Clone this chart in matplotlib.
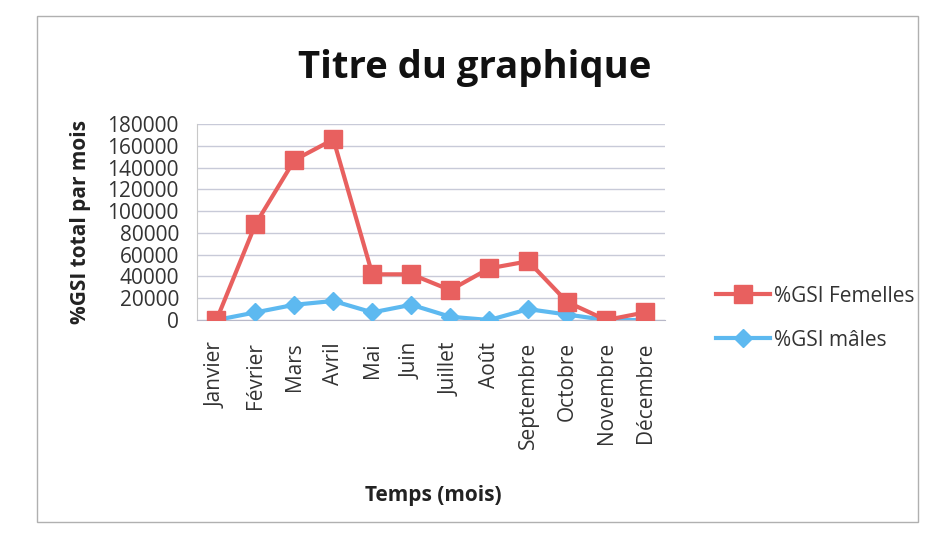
import matplotlib
matplotlib.use('Agg')
import matplotlib.pyplot as plt
from matplotlib.patches import Rectangle

mois = ['Janvier', 'Février', 'Mars', 'Avril', 'Mai', 'Juin', 'Juillet', 'Août',
        'Septembre', 'Octobre', 'Novembre', 'Décembre']
gsi_femelles = [0, 88000, 147000, 166000, 42000, 42000, 27500, 47500, 54000, 16500, 0, 7000]
gsi_males = [0, 7000, 14000, 17500, 7000, 14000, 3000, 0, 10000, 5000, 0, 0]
y_ticks = list(range(0, 180001, 20000))

plt.rcParams['font.family'] = ['Open Sans', 'DejaVu Sans']

fig = plt.figure(figsize=(9.27, 5.33), dpi=100)
ax = fig.add_axes([0.2125, 0.3996, 0.5045, 0.3674])

x = list(range(len(mois)))
ax.plot(x, gsi_femelles, color='#E8605F', lw=3, marker='s', ms=13, label='%GSI Femelles', zorder=4)
ax.plot(x, gsi_males, color='#5DB9F0', lw=3, marker='D', ms=9, label='%GSI mâles', zorder=3)

ax.set_xlim(-0.5, len(mois) - 0.5)
ax.set_ylim(0, 180000)
ax.set_yticks(y_ticks)
ax.set_yticklabels([str(v) for v in y_ticks], fontsize=15, color='#333333')
ax.set_xticks(x)
ax.set_xticklabels(mois, rotation=90, fontsize=15, color='#333333')
ax.tick_params(axis='y', length=0, pad=13)
ax.tick_params(axis='x', length=0, pad=16)
ax.yaxis.grid(True, color='#C8CAD8', lw=1)
ax.set_axisbelow(True)
for s in ['top', 'right']:
    ax.spines[s].set_visible(False)
ax.spines['left'].set_color('#C8C8C8')
ax.spines['bottom'].set_color('#B8B8C8')

ax.set_ylabel('%GSI total par mois', fontsize=15, fontweight='bold', color='#222222', labelpad=12)
fig.text(0.467, 0.071, 'Temps (mois)', fontsize=15, fontweight='bold', color='#222222', ha='center', va='center')
fig.text(0.512, 0.872, 'Titre du graphique', fontsize=27.5, fontweight='bold', color='#111111', ha='center', va='center')

leg = ax.legend(loc='center left', bbox_to_anchor=(1.07, 0.01), frameon=False, fontsize=15,
                labelspacing=1.1, handlelength=2.6, handletextpad=0.2)
for t in leg.get_texts():
    t.set_color('#333333')

fig.patches.append(Rectangle((0.04, 0.02), 0.95, 0.95, transform=fig.transFigure,
                             fill=False, edgecolor='#B0B0B0', lw=1))

fig.savefig('out.png', dpi=100)
